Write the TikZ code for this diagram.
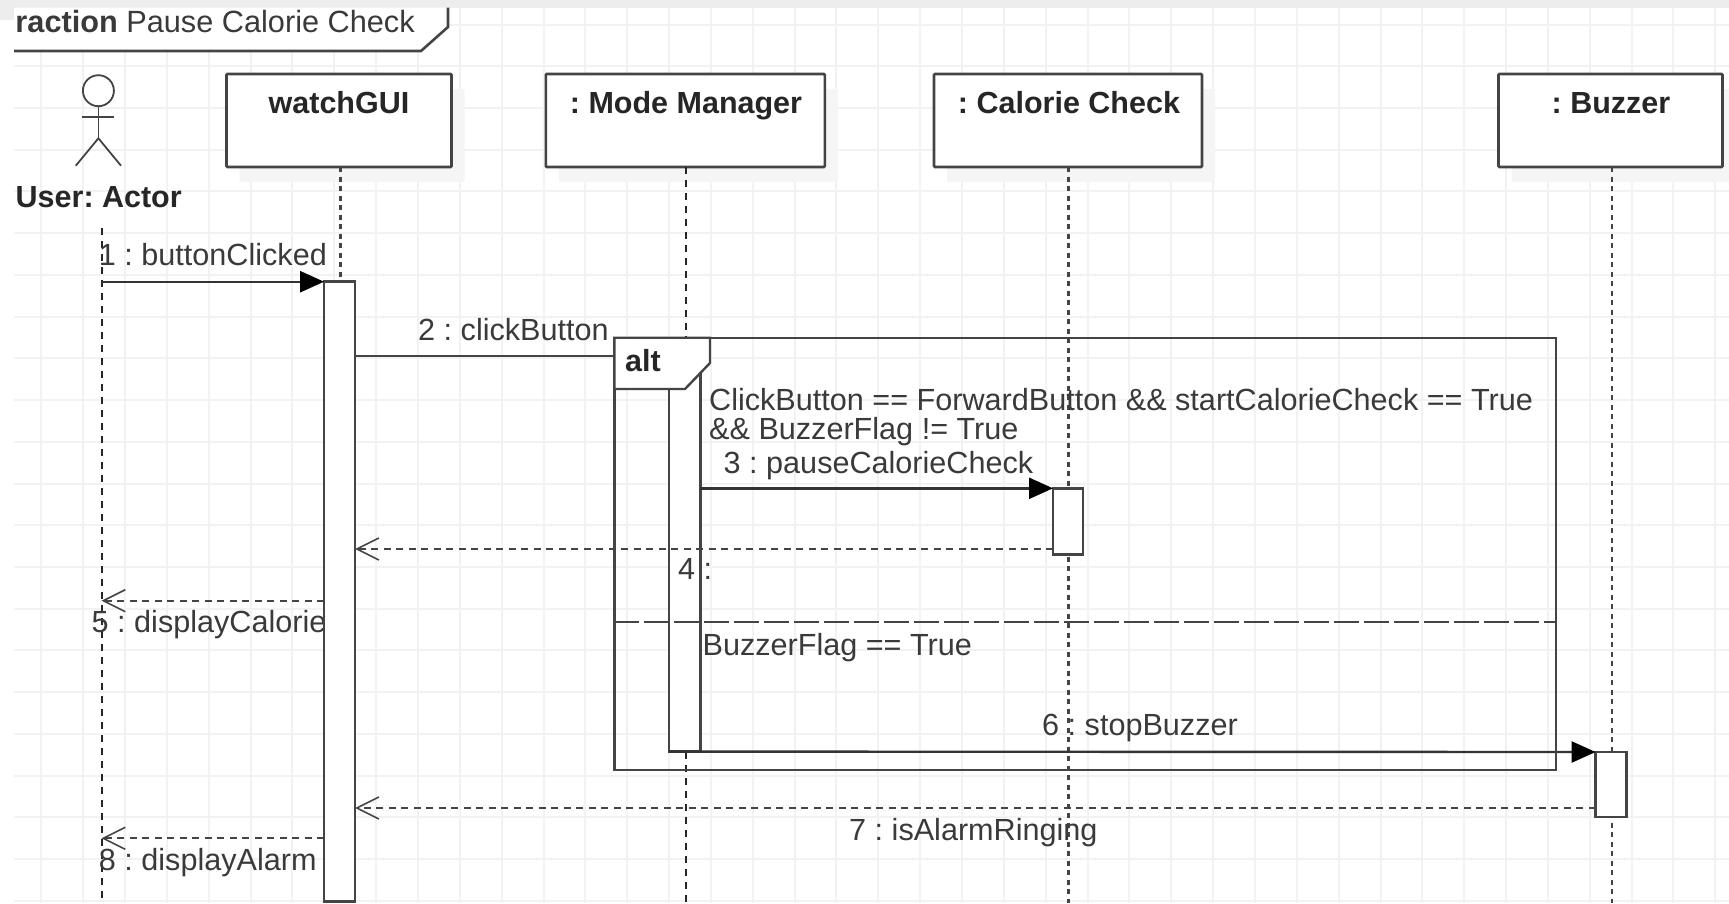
\documentclass[tikz,border=0pt]{standalone}
\usepackage{fontspec}
\setmainfont{Liberation Sans}
\usetikzlibrary{arrows.meta, shadows, positioning}
\definecolor{linegrey}{HTML}{444444}
\definecolor{textgrey}{HTML}{3A3A3A}
\definecolor{gridgrey}{HTML}{F2F2F2}
\tikzset{
  objbox/.style={draw=linegrey,line width=2.6pt,rounded corners=1pt,fill=white,inner sep=0pt,outer sep=0pt,minimum height=93pt,
    drop shadow={fill=black!4,opacity=1,shadow xshift=13pt,shadow yshift=-15pt}},
  actbox/.style={draw=linegrey,line width=2.6pt,fill=white,inner sep=0pt,outer sep=0pt,anchor=north west},
  lifedot/.style={draw=linegrey,line width=2.8pt,dash pattern=on 5pt off 4.5pt},
  lifedash/.style={draw=black!85,line width=2pt,dash pattern=on 7pt off 6pt},
  namelbl/.style={anchor=base,inner sep=0pt,text=black!85,font=\fontsize{30.5}{30}\selectfont\bfseries\frenchspacing},
  msglbl/.style={anchor=base west,inner sep=0pt,text=textgrey,font=\fontsize{30.6}{30}\selectfont\frenchspacing},
  callmsg/.style={draw=black!80,line width=2.4pt,-{Triangle[length=24pt,width=21pt,color=black]}},
  backmsg/.style={draw=linegrey,line width=2.1pt,dash pattern=on 7pt off 5.5pt,-{Straight Barb[length=22pt,width=22pt,line width=1.6pt]}}
}
\begin{document}
\begin{tikzpicture}[x=1pt,y=-1pt]

        \useasboundingbox (0,0) rectangle (1729,903);
        \fill[white] (0,0) rectangle (1729,903);

        % Grid of the editor
        \fill[black!7] (0,0) rectangle (1729,7.5);
        \fill[black!7] (0,0) rectangle (14,20);
        \foreach \k in {0,...,40} \draw[gridgrey,line width=2pt] ({41.3+41.85*\k},7.5) -- ({41.3+41.85*\k},903);
        \foreach \k in {0,...,21} \draw[gridgrey,line width=2pt] (14,{24.5+41.73*\k}) -- (1729,{24.5+41.73*\k});

        % Frame title
        \path[fill=white] (14,7.5) -- (448,7.5) -- (448,27) -- (421,51) -- (14,51) -- cycle;
        \draw[linegrey,line width=2.6pt] (448,7.5) -- (448,27) -- (421,51) -- (14,51);
        \node[msglbl,font=\fontsize{30.7}{30}\selectfont\frenchspacing] (title) at (15.3,32) {\textbf{raction} Pause Calorie Check};

        % Actor
        \draw[linegrey,line width=1.8pt] (98.4,90.7) circle (15.5);
        \coordinate (neck) at (98.4,106.2);
        \coordinate (hip) at (98.4,138.3);
        \draw[linegrey,line width=1.8pt] (neck) -- (hip);
        \draw[linegrey,line width=1.8pt] (82.3,117.3) -- (114.3,117.3);
        \draw[linegrey,line width=1.8pt] (75.8,165.7) -- (hip) -- (121,165.7);
        \node[namelbl,anchor=base west] (user) at (15.5,207) {User: Actor};

        % Objects
        \node[objbox,minimum width=225pt] (gui) at (339,120.5) {};
        \node[objbox,minimum width=279pt] (mode) at (685.3,120.5) {};
        \node[objbox,minimum width=268pt] (calorie) at (1068,120.5) {};
        \node[objbox,minimum width=224pt] (buzzer) at (1610.5,120.5) {};
        \node[namelbl] (guiname) at (339,113) {watchGUI};
        \node[namelbl] (modename) at (686,113) {: Mode Manager};
        \node[namelbl] (caloriename) at (1069,113) {: Calorie Check};
        \node[namelbl] (buzzername) at (1611,113) {: Buzzer};

        % Lifelines
        \coordinate (userend) at (101.5,903);
        \coordinate (guiend) at (340.7,290);
        \coordinate (modeend) at (686,903);
        \coordinate (calorieend) at (1068.5,903);
        \coordinate (buzzerend) at (1612,903);
        \draw[lifedash] (101.5,228) -- (userend);
        \draw[lifedot] (gui.south -| guiend) -- (guiend);
        \draw[lifedash] (mode.south -| modeend) -- (modeend);
        \draw[lifedot] (calorie.south -| calorieend) -- (calorieend);
        \draw[lifedot] (buzzer.south -| buzzerend) -- (buzzerend);

        % Message texts
        \node[msglbl] (t1) at (98.7,265) {1 : buttonClicked};
        \node[msglbl] (t2) at (418,340.7) {2 : clickButton};
        \node[msglbl] (t3) at (723.5,473) {3 : pauseCalorieCheck};
        \node[msglbl] (t5) at (91.5,632.7) {5 : displayCalorie};
        \node[msglbl] (t6) at (1042,735.5) {6 : stopBuzzer};
        \node[msglbl] (t7) at (849,840) {7 : isAlarmRinging};
        \node[msglbl] (t8) at (98.7,870.7) {8 : displayAlarm};

        % Activations
        \node[actbox,minimum width=31pt,minimum height=620pt] (guiact) at (324.1,281.7) {};
        \node[actbox,minimum width=31.4pt,minimum height=395.6pt] (modeact) at (668.8,356) {};
        \node[actbox,minimum width=30pt,minimum height=66pt] (calorieact) at (1053,488.3) {};
        \node[actbox,minimum width=31pt,minimum height=65pt] (buzzeract) at (1595.6,752) {};
        \node[msglbl] (t4) at (678,579) {4 :};

        % Messages
        \coordinate (userline) at (101.5,281.7);
        \coordinate (y2) at (0,356);
        \coordinate (y4) at (0,549);
        \coordinate (y5) at (0,600.7);
        \coordinate (y7) at (0,808);
        \coordinate (y8) at (0,838.3);
        \draw[callmsg] (userline) -- (guiact.north west);
        \draw[callmsg,draw=linegrey,line width=2.8pt] (guiact.east |- y2) -- (modeact.north west);
        \draw[callmsg] (modeact.east |- calorieact.north) -- (calorieact.north west);
        \draw[backmsg] (calorieact.west |- y4) -- (guiact.east |- y4);
        \draw[backmsg] (guiact.west |- y5) -- (userline |- y5);
        \draw[callmsg] (modeact.south west) -- (buzzeract.north west);
        \draw[backmsg] (buzzeract.west |- y7) -- (guiact.east |- y7);
        \draw[backmsg] (guiact.west |- y8) -- (userline |- y8);

        % Alt fragment
        \coordinate (altA) at (614.4,337.7);
        \coordinate (altB) at (1556,770);
        \draw[linegrey,line width=2.4pt] (altA) rectangle (altB);
        \draw[linegrey,line width=2.4pt,fill=white] (altA) -- (710,337.7) -- (710,363) -- (685,389) -- (614.4,389) -- cycle;
        \node[namelbl,anchor=base west] (alttag) at (625,371.7) {alt};
        \draw[linegrey,line width=2.4pt,dash pattern=on 25pt off 5pt] (altA |- 0,622) -- (altB |- 0,622);
        \node[msglbl] (guard1a) at (709,410) {ClickButton == ForwardButton \&\& startCalorieCheck == True};
        \node[msglbl] (guard1b) at (709,439.3) {\&\& BuzzerFlag != True};
        \node[msglbl] (guard2) at (702.4,655) {BuzzerFlag == True};

\end{tikzpicture}
\end{document}
